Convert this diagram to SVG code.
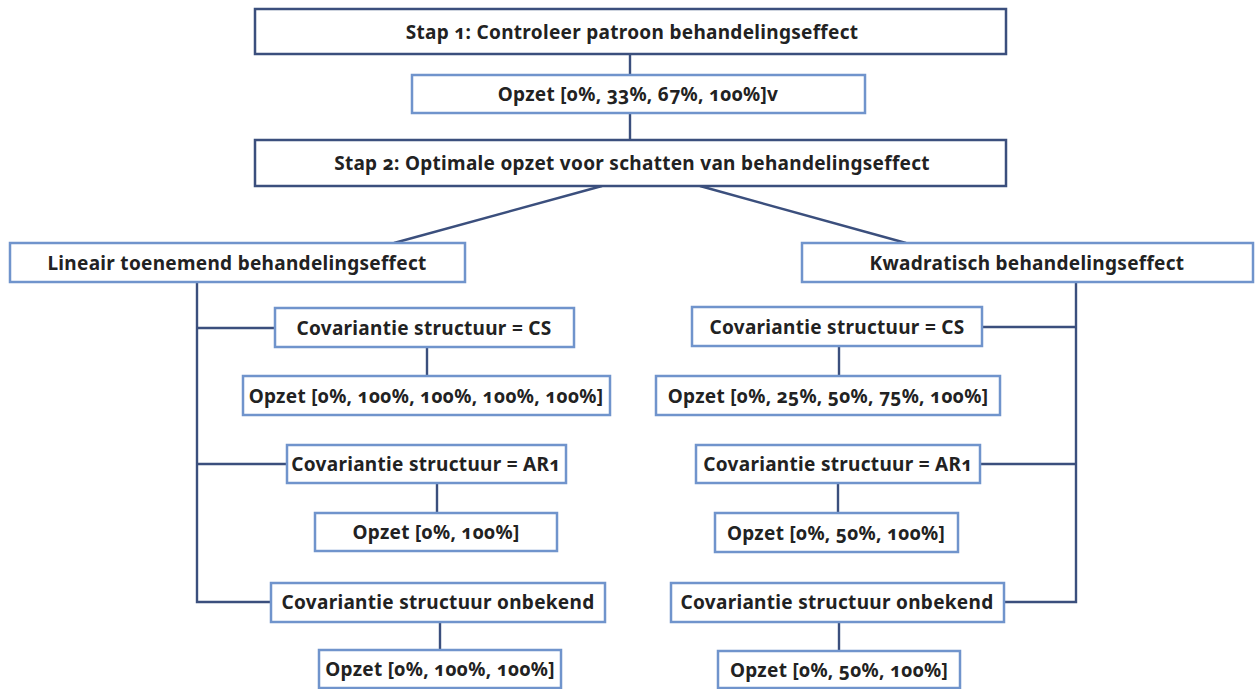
<svg xmlns="http://www.w3.org/2000/svg" width="1256" height="689" viewBox="0 0 1256 689">
<style>
  .dark { fill: #ffffff; stroke: #3b4f7d; stroke-width: 2.5; }
  .light { fill: #ffffff; stroke: #7094cc; stroke-width: 2.5; }
  .t { font-family: "Noto Sans", "Open Sans", sans-serif; font-weight: bold; font-size: 19px; letter-spacing: 0.3px; fill: #222222; text-anchor: middle; dominant-baseline: central; font-feature-settings: "onum"; }
  .c { stroke: #3b4f7d; stroke-width: 2.4; fill: none; }
</style>
<rect width="1256" height="689" fill="#ffffff"/>
<g id="connectors">
  <line class="c" x1="630" y1="54" x2="630" y2="75"/>
  <line class="c" x1="630" y1="113" x2="630" y2="140"/>
  <line class="c" x1="602" y1="186" x2="394" y2="243"/>
  <line class="c" x1="700" y1="186" x2="906" y2="243"/>
  <polyline class="c" points="197,282 197,602 271,602"/>
  <line class="c" x1="197" y1="328" x2="275" y2="328"/>
  <line class="c" x1="197" y1="464" x2="287" y2="464"/>
  <line class="c" x1="427" y1="347" x2="427" y2="376"/>
  <line class="c" x1="437" y1="483" x2="437" y2="513"/>
  <line class="c" x1="440" y1="622" x2="440" y2="650"/>
  <polyline class="c" points="1076,282 1076,602 1004,602"/>
  <line class="c" x1="982" y1="327" x2="1076" y2="327"/>
  <line class="c" x1="980" y1="464" x2="1076" y2="464"/>
  <line class="c" x1="839" y1="346" x2="839" y2="376"/>
  <line class="c" x1="838" y1="483" x2="838" y2="513"/>
  <line class="c" x1="839" y1="622" x2="839" y2="651"/>
</g>
<g id="stap1"><rect class="dark" x="255" y="9" width="751" height="45"/><text class="t" x="632" y="32">Stap 1: Controleer patroon behandelingseffect</text></g>
<g id="opzet1"><rect class="light" x="412" y="75" width="453" height="38"/><text class="t" x="638" y="94">Opzet [0%, 33%, 67%, 100%]v</text></g>
<g id="stap2"><rect class="dark" x="255" y="140" width="751" height="46"/><text class="t" x="632" y="163">Stap 2: Optimale opzet voor schatten van behandelingseffect</text></g>
<g id="lineair"><rect class="light" x="10" y="243" width="455" height="39"/><text class="t" x="237" y="263">Lineair toenemend behandelingseffect</text></g>
<g id="kwadratisch"><rect class="light" x="802" y="243" width="451" height="39"/><text class="t" x="1027" y="263">Kwadratisch behandelingseffect</text></g>
<g id="l-cs"><rect class="light" x="275" y="308" width="299" height="39"/><text class="t" x="424" y="328">Covariantie structuur = CS</text></g>
<g id="l-cs-opzet"><rect class="light" x="243" y="376" width="367" height="39"/><text class="t" x="426" y="396">Opzet [0%, 100%, 100%, 100%, 100%]</text></g>
<g id="l-ar1"><rect class="light" x="287" y="445" width="279" height="38"/><text class="t" x="426" y="464">Covariantie structuur = AR1</text></g>
<g id="l-ar1-opzet"><rect class="light" x="315" y="513" width="242" height="38"/><text class="t" x="436" y="532">Opzet [0%, 100%]</text></g>
<g id="l-onb"><rect class="light" x="271" y="583" width="334" height="39"/><text class="t" x="438" y="602">Covariantie structuur onbekend</text></g>
<g id="l-onb-opzet"><rect class="light" x="319" y="650" width="242" height="38"/><text class="t" x="440" y="669">Opzet [0%, 100%, 100%]</text></g>
<g id="r-cs"><rect class="light" x="692" y="307" width="290" height="39"/><text class="t" x="837" y="327">Covariantie structuur = CS</text></g>
<g id="r-cs-opzet"><rect class="light" x="656" y="376" width="344" height="39"/><text class="t" x="828" y="396">Opzet [0%, 25%, 50%, 75%, 100%]</text></g>
<g id="r-ar1"><rect class="light" x="696" y="445" width="284" height="38"/><text class="t" x="838" y="464">Covariantie structuur = AR1</text></g>
<g id="r-ar1-opzet"><rect class="light" x="715" y="513" width="243" height="39"/><text class="t" x="836" y="533">Opzet [0%, 50%, 100%]</text></g>
<g id="r-onb"><rect class="light" x="671" y="583" width="333" height="39"/><text class="t" x="837" y="602">Covariantie structuur onbekend</text></g>
<g id="r-onb-opzet"><rect class="light" x="718" y="651" width="242" height="37"/><text class="t" x="839" y="670">Opzet [0%, 50%, 100%]</text></g>
</svg>
